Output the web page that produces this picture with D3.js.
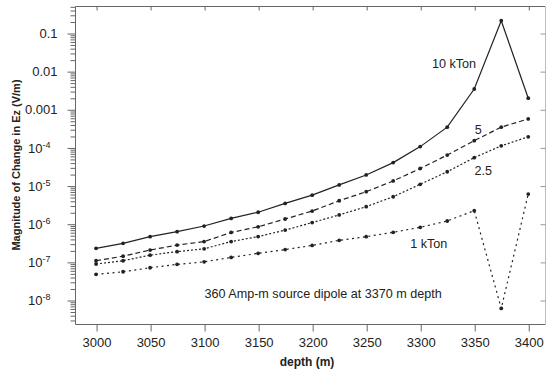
<!DOCTYPE html>
<html>
<head>
<meta charset="utf-8">
<script src="https://cdn.jsdelivr.net/npm/d3@7"></script>
<style>
  body { margin: 0; background: #fff; }
  svg { display: block; font-family: "Liberation Sans", Arial, sans-serif; }
  .tick text { fill: #222; }
</style>
</head>
<body>
<svg id="chart" width="546" height="371"></svg>
<script>
// data
const depths = [3000, 3025, 3050, 3075, 3100, 3125, 3150, 3175, 3200, 3225, 3250, 3275, 3300, 3325, 3350, 3375, 3400];
const kt10 = [2.26e-7, 3.06e-7, 4.57e-7, 6.2e-7, 8.7e-7, 1.38e-6, 2.0e-6, 3.4e-6, 5.6e-6, 1.04e-5, 1.9e-5, 4.0e-5, 1.05e-4, 3.4e-4, 3.4e-3, 0.21, 1.95e-3];
const kt5 = [1.07e-7, 1.41e-7, 2.04e-7, 2.75e-7, 3.4e-7, 5.9e-7, 8.3e-7, 1.33e-6, 2.15e-6, 4.0e-6, 6.9e-6, 1.32e-5, 2.8e-5, 6.3e-5, 1.5e-4, 3.4e-4, 5.6e-4];
const kt25 = [8.8e-8, 1.07e-7, 1.5e-7, 1.85e-7, 2.2e-7, 3.4e-7, 4.6e-7, 6.8e-7, 1.07e-6, 1.7e-6, 2.8e-6, 5.1e-6, 1.08e-5, 2.3e-5, 5.4e-5, 1.1e-4, 1.9e-4];
const kt1 = [4.7e-8, 5.5e-8, 7.0e-8, 8.6e-8, 1.0e-7, 1.31e-7, 1.67e-7, 2.1e-7, 2.7e-7, 3.66e-7, 4.57e-7, 5.96e-7, 8.05e-7, 1.18e-6, 2.2e-6, 6.0e-9, 6.0e-6];

const xTicks = [3000, 3050, 3100, 3150, 3200, 3250, 3300, 3350, 3400];
const yMajor = [1e-8, 1e-7, 1e-6, 1e-5, 1e-4, 1e-3, 1e-2, 1e-1];
const yPlainLabels = { "-1": "0.1", "-2": "0.01", "-3": "0.001" };

const notes = [
    { text: "10 kTon", depth: 3310.8, value: 0.0121 },
    { text: "5", depth: 3350.5, value: 2.25e-4 },
    { text: "2.5", depth: 3350.3, value: 1.9e-5 },
    { text: "1 kTon", depth: 3290.7, value: 2.3e-7 },
    { text: "360 Amp-m source dipole at 3370 m depth", depth: 3100.3, value: 1.1e-8 }
];

const series = [
    { values: kt10, dash: null },
    { values: kt5, dash: "5,3" },
    { values: kt25, dash: "2,2" },
    { values: kt1, dash: "2,3.5" }
];

const svg = d3.select("svg#chart");
const ink = "#222";
const frame = "#666";

const x = d3.scaleLinear().domain([2980.5, 3415.5]).range([75, 545]);
const y = d3.scaleLog().domain([2.35e-9, 0.51]).range([324, 6]);

// minor ticks 2..9 for each decade inside the domain
const yMinor = [];
d3.range(-9, 0).forEach(e => {
    for (let m = 2; m <= 9; m++) {
        const v = m * Math.pow(10, e);
        if (v >= y.domain()[0] && v <= y.domain()[1]) yMinor.push(v);
    }
});

// frame, right edge faint like the original
const [x0, x1] = x.range();
const [yb, yt] = y.range();
svg.append("path")
    .attr("d", `M${x1 + 0.5},${yt + 0.5}H${x0 + 0.5}V${yb + 0.5}H${x1 + 0.5}`)
    .attr("fill", "none").attr("stroke", frame);
svg.append("line")
    .attr("x1", x1 + 0.5).attr("x2", x1 + 0.5).attr("y1", yt).attr("y2", yb + 1)
    .attr("stroke", "#bbb");

// bottom axis
const gx = svg.append("g")
    .attr("transform", `translate(0.5,${yb + 0.5})`)
    .call(d3.axisBottom(x).tickValues(xTicks).tickSize(7).tickPadding(6).tickFormat(d3.format("d")));
gx.select(".domain").remove();
gx.selectAll("line").attr("stroke", frame);
gx.selectAll("text").attr("font-size", "13px");

// top axis, ticks inward
const gxt = svg.append("g")
    .attr("transform", `translate(0.5,${yt + 0.5})`)
    .call(d3.axisTop(x).tickValues(xTicks).tickSize(-4).tickFormat(""));
gxt.select(".domain").remove();
gxt.selectAll("line").attr("stroke", frame);

// left axis minor
const gym = svg.append("g")
    .attr("transform", `translate(${x0 + 0.5},0.5)`)
    .call(d3.axisLeft(y).tickValues(yMinor).tickSize(5).tickFormat(""));
gym.select(".domain").remove();
gym.selectAll("line").attr("stroke", frame);

// left axis major
const gy = svg.append("g")
    .attr("transform", `translate(${x0 + 0.5},0.5)`)
    .call(d3.axisLeft(y).tickValues(yMajor).tickSize(8).tickPadding(10).tickFormat(""));
gy.select(".domain").remove();
gy.selectAll("line").attr("stroke", frame);
gy.selectAll(".tick text").each(function (d) {
    const e = Math.round(Math.log10(d));
    const t = d3.select(this).attr("font-size", "13px");
    if (yPlainLabels[e]) {
        t.text(yPlainLabels[e]);
    } else {
        t.attr("x", -25);
        t.append("tspan").text("10");
        t.append("tspan").attr("font-size", "9px").attr("dy", "-0.55em").text(String(e));
    }
});

// right axis, ticks inward
const gyr = svg.append("g")
    .attr("transform", `translate(${x1 + 0.5},0.5)`)
    .call(d3.axisRight(y).tickValues(yMajor).tickSize(-5).tickFormat(""));
gyr.select(".domain").remove();
gyr.selectAll("line").attr("stroke", "#999");

// series
const line = d3.line()
    .x((d, i) => x(depths[i]))
    .y(d => y(d));

series.forEach(s => {
    svg.append("path")
        .datum(s.values)
        .attr("d", line)
        .attr("fill", "none")
        .attr("stroke", ink)
        .attr("stroke-width", 1.2)
        .attr("stroke-dasharray", s.dash);
    svg.append("g").selectAll("circle")
        .data(s.values)
        .join("circle")
        .attr("cx", (d, i) => x(depths[i]))
        .attr("cy", d => y(d))
        .attr("r", 1.9)
        .attr("fill", ink);
});

// annotations
svg.append("g").selectAll("text")
    .data(notes)
    .join("text")
    .attr("x", d => x(d.depth))
    .attr("y", d => y(d.value))
    .attr("font-size", "12.6px")
    .attr("fill", ink)
    .text(d => d.text);

// axis titles
svg.append("text")
    .attr("x", (x0 + x1) / 2 - 3)
    .attr("y", 366)
    .attr("text-anchor", "middle")
    .attr("font-size", "12px")
    .attr("font-weight", "bold")
    .attr("fill", ink)
    .text("depth (m)");

svg.append("text")
    .attr("transform", `translate(20,${(yb + yt) / 2}) rotate(-90)`)
    .attr("text-anchor", "middle")
    .attr("font-size", "11px")
    .attr("font-weight", "bold")
    .attr("fill", ink)
    .text("Magnitude of Change in Ez (V/m)");
</script>
</body>
</html>
